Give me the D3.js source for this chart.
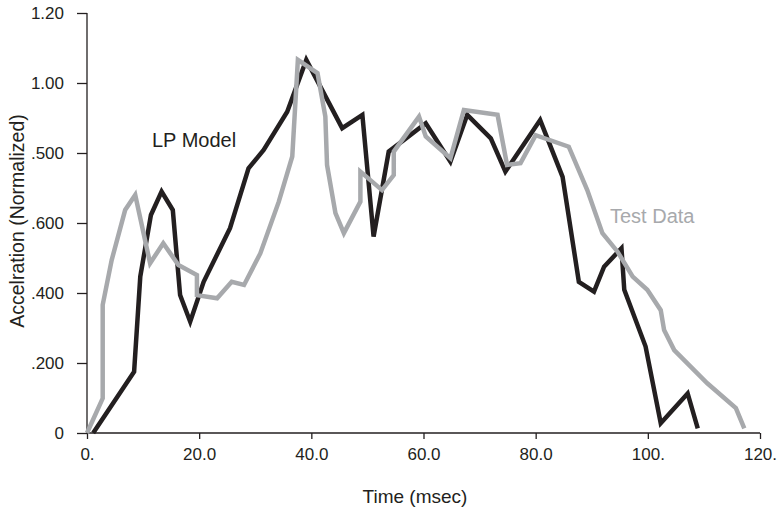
<!DOCTYPE html>
<html>
<head>
<meta charset="utf-8">
<script src="https://cdn.jsdelivr.net/npm/d3@7"></script>
<style>
  body { margin: 0; background: #fff; }
  svg text { font-family: "Liberation Sans", Arial, Helvetica, sans-serif; fill: #231f20; }
</style>
</head>
<body>
<div id="chart"></div>
<script>
// LP model curve (time in msec, normalized acceleration)
const lpTime  = [1.1, 8.4, 9.5, 11.4, 13.3, 15.3, 16.6, 18.4, 20.8, 25.5, 28.8, 31.5, 35.7, 39.1, 45.5, 49.1, 51.1, 53.8, 60.4, 64.8, 67.8, 72.0, 74.6, 80.8, 84.8, 87.7, 90.4, 92.2, 95.3, 95.8, 99.6, 102.3, 107.1, 108.9];
const lpAccel = [0, 0.175, 0.447, 0.623, 0.69, 0.637, 0.394, 0.318, 0.432, 0.585, 0.756, 0.809, 0.918, 1.066, 0.871, 0.909, 0.561, 0.804, 0.885, 0.775, 0.909, 0.842, 0.747, 0.894, 0.732, 0.432, 0.404, 0.475, 0.528, 0.409, 0.247, 0.028, 0.113, 0.013];

// measured test data
const testTime  = [0, 2.8, 2.8, 4.4, 6.8, 8.6, 11.25, 13.6, 16.3, 19.6, 19.6, 23.2, 25.8, 28.0, 30.9, 34.2, 36.6, 37.6, 41.1, 42.5, 42.8, 44.3, 45.8, 48.75, 48.75, 52.6, 54.7, 54.7, 59.2, 60.4, 64.8, 67.2, 73.2, 74.9, 77.3, 80.0, 85.9, 89.2, 91.9, 94.6, 97.3, 99.9, 102.3, 102.9, 104.7, 110.6, 115.7, 117.2];
const testAccel = [0, 0.099, 0.366, 0.494, 0.637, 0.68, 0.485, 0.542, 0.48, 0.451, 0.394, 0.385, 0.432, 0.423, 0.513, 0.661, 0.79, 1.066, 1.028, 0.904, 0.766, 0.628, 0.571, 0.661, 0.747, 0.694, 0.737, 0.804, 0.904, 0.847, 0.785, 0.923, 0.909, 0.766, 0.771, 0.851, 0.818, 0.694, 0.571, 0.518, 0.447, 0.409, 0.351, 0.294, 0.237, 0.142, 0.071, 0.013];

// axis ticks and their printed labels (kept as in the original figure)
const xTicks = [0, 20, 40, 60, 80, 100, 120];
const xTickLabels = ["0.", "20.0", "40.0", "60.0", "80.0", "100.", "120."];
const yTicks = [0, 0.2, 0.4, 0.6, 0.8, 1.0, 1.2];
const yTickLabels = ["0", ".200", ".400", ".600", ".500", "1.00", "1.20"];

const width = 782, height = 512;
const margin = {top: 13, right: 22, bottom: 79, left: 87};

const svg = d3.select("#chart").append("svg")
    .attr("width", width)
    .attr("height", height);

const x = d3.scaleLinear().domain([0, 120]).range([margin.left, width - margin.right]);
const y = d3.scaleLinear().domain([0, 1.2]).range([height - margin.bottom, margin.top]);

// x axis
const xAxis = svg.append("g")
    .attr("transform", "translate(0," + y(0) + ")")
    .call(d3.axisBottom(x).tickValues(xTicks).tickSize(6).tickPadding(6)
        .tickFormat((d, i) => xTickLabels[i]));
xAxis.select(".domain").attr("d", "M" + x(0) + ",0H" + x(120));

// y axis
const yAxis = svg.append("g")
    .attr("transform", "translate(" + x(0) + ",0)")
    .call(d3.axisLeft(y).tickValues(yTicks).tickSize(10).tickPadding(13)
        .tickFormat((d, i) => yTickLabels[i]));
yAxis.select(".domain").attr("d", "M0," + y(1.2) + "V" + y(0));

svg.selectAll(".domain, .tick line").attr("stroke", "#231f20").attr("stroke-width", 1.3);
svg.selectAll(".tick text").style("font-size", "17px").attr("fill", "#231f20");
xAxis.selectAll(".tick text").attr("dy", "0.9em");

// lines
const line = d3.line().x(d => x(d[0])).y(d => y(d[1]));

svg.append("path")
    .datum(d3.zip(lpTime, lpAccel))
    .attr("fill", "none")
    .attr("stroke", "#231f20")
    .attr("stroke-width", 4.5)
    .attr("stroke-linejoin", "miter")
    .attr("d", line);

svg.append("path")
    .datum(d3.zip(testTime, testAccel))
    .attr("fill", "none")
    .attr("stroke", "#a7a9ac")
    .attr("stroke-width", 4.5)
    .attr("stroke-linejoin", "miter")
    .attr("d", line);

// series labels
svg.append("text")
    .attr("x", 152).attr("y", 147)
    .style("font-size", "20px")
    .text("LP Model");

svg.append("text")
    .attr("x", 610).attr("y", 223)
    .style("font-size", "20px")
    .style("fill", "#a7a9ac")
    .text("Test Data");

// axis titles
svg.append("text")
    .attr("x", 415).attr("y", 503)
    .attr("text-anchor", "middle")
    .style("font-size", "19px")
    .text("Time (msec)");

svg.append("text")
    .attr("transform", "translate(24,221) rotate(-90)")
    .attr("text-anchor", "middle")
    .style("font-size", "19.5px")
    .text("Accelration (Normalized)");
</script>
</body>
</html>
